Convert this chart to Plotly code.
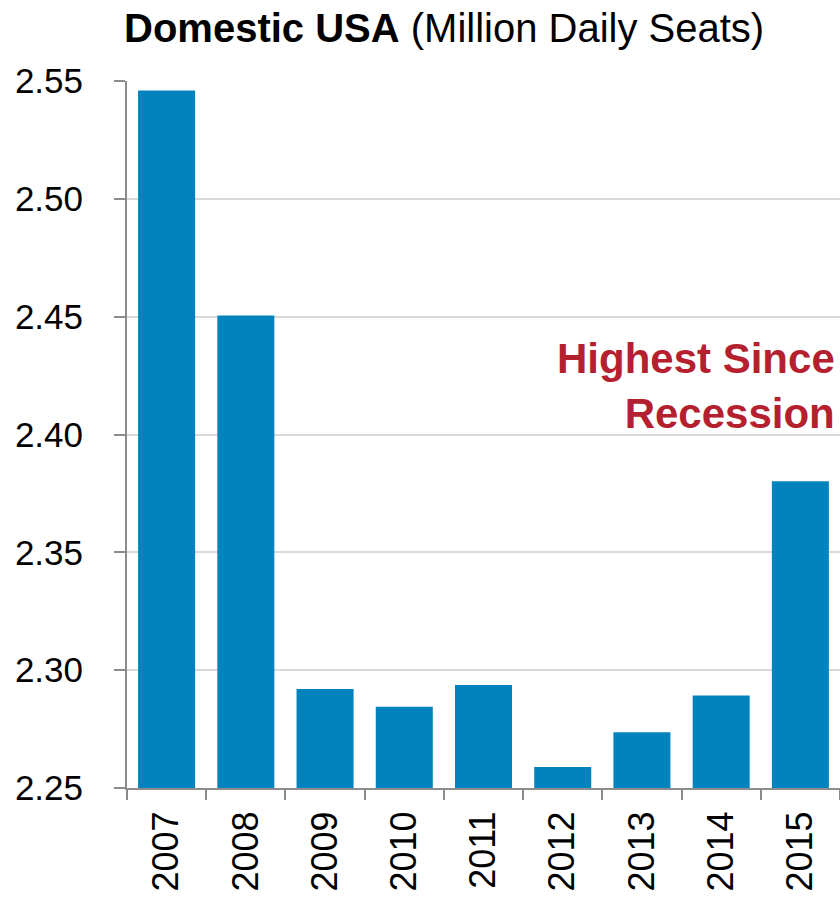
import plotly.graph_objects as go

years = ["2007", "2008", "2009", "2010", "2011", "2012", "2013", "2014", "2015"]
seats = [2.546, 2.4505, 2.292, 2.2845, 2.2937, 2.2589, 2.2737, 2.2892, 2.3802]
y_ticks = [2.25, 2.30, 2.35, 2.40, 2.45, 2.50, 2.55]
y_tick_labels = ["2.25", "2.30", "2.35", "2.40", "2.45", "2.50", "2.55"]

bar_color = "#0383BD"
axis_color = "#8C8C8C"
grid_color = "#D9D9D9"

fig = go.Figure(
    go.Bar(
        x=years,
        y=seats,
        marker=dict(color=bar_color, line=dict(width=0)),
    )
)

fig.update_layout(
    width=840,
    height=897,
    margin=dict(l=127, r=0, t=81, b=109),
    paper_bgcolor="white",
    plot_bgcolor="white",
    bargap=0.28,
    showlegend=False,
    font=dict(family="Liberation Sans, Arial, sans-serif", color="black"),
)

fig.update_xaxes(
    type="category",
    tickangle=-90,
    tickson="boundaries",
    ticks="outside",
    ticklen=10,
    tickwidth=2,
    tickcolor=axis_color,
    showline=True,
    linecolor=axis_color,
    linewidth=2,
    showgrid=False,
    ticklabelstandoff=7,
    tickfont=dict(size=36, family="Liberation Sans, Arial, sans-serif", color="black"),
)

fig.update_yaxes(
    range=[2.25, 2.55],
    tickvals=y_ticks,
    ticktext=y_tick_labels,
    ticks="outside",
    ticklen=11,
    tickwidth=2,
    tickcolor=axis_color,
    showline=True,
    linecolor=axis_color,
    linewidth=2,
    showgrid=True,
    gridcolor=grid_color,
    gridwidth=2,
    zeroline=False,
    ticklabelstandoff=24,
    tickfont=dict(size=35, family="Liberation Sans Narrow, Arial Narrow, Liberation Sans, Arial, sans-serif", color="black"),
)

fig.add_annotation(
    xref="paper", yref="paper",
    x=-0.007, y=1.0745,
    xanchor="left", yanchor="middle",
    text="<b>Domestic USA</b> (Million Daily Seats)",
    showarrow=False,
    font=dict(size=40, family="Liberation Sans, Arial, sans-serif", color="black"),
)

fig.add_annotation(
    xref="paper", yref="y",
    x=0.996, y=2.4205,
    xanchor="right", yanchor="middle",
    align="right",
    text="<b>Highest Since<br>Recession</b>",
    showarrow=False,
    font=dict(size=42, family="Liberation Sans, Arial, sans-serif", color="#B5202E"),
)

fig.write_html("out.html")
